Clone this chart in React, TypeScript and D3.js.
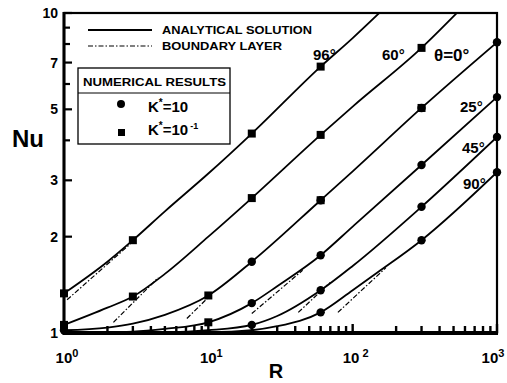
import React, { useEffect, useRef } from 'react';
import * as d3 from 'd3';

// analytical solution curves (R, Nu)
const R_96 = [1, 2, 3, 5, 10, 20, 60, 100, 160];
const NU_96 = [1.33, 1.67, 1.95, 2.4, 3.15, 4.2, 6.8, 8.35, 10.2];
const R_60 = [1, 2, 3, 5, 10, 20, 60, 100, 300, 550];
const NU_60 = [1.06, 1.2, 1.3, 1.53, 2.0, 2.64, 4.16, 5.1, 7.78, 10.2];
const R_0 = [1, 2, 3, 5, 10, 20, 60, 100, 300, 1000];
const NU_0 = [1.02, 1.04, 1.07, 1.14, 1.31, 1.67, 2.6, 3.2, 5.05, 8.1];
const R_25 = [1, 3, 5, 10, 20, 30, 60, 100, 300, 1000];
const NU_25 = [1.0, 1.01, 1.03, 1.08, 1.24, 1.4, 1.75, 2.15, 3.35, 5.46];
const R_45 = [1, 5, 10, 20, 30, 60, 100, 300, 1000];
const NU_45 = [1.0, 1.005, 1.02, 1.06, 1.13, 1.36, 1.62, 2.48, 4.1];
const R_90 = [1, 10, 20, 30, 60, 100, 150, 300, 1000];
const NU_90 = [1.0, 1.005, 1.02, 1.05, 1.16, 1.36, 1.55, 1.95, 3.18];

// boundary layer asymptotes
const BL_R = [[1.05, 3], [2.2, 4.5], [7.1, 10.5], [20, 45], [42, 70], [79, 170]];
const BL_NU = [[1.27, 1.93], [1.08, 1.49], [1.11, 1.32], [1.15, 1.57], [1.16, 1.44], [1.16, 1.6]];

// numerical results
const SQ_R = [1, 3, 20, 60, 1, 3, 20, 60, 300, 10, 60, 300, 10];
const SQ_NU = [1.33, 1.95, 4.2, 6.8, 1.06, 1.3, 2.64, 4.16, 7.78, 1.31, 2.6, 5.05, 1.08];
const CI_R = [20, 60, 300, 1000, 20, 60, 300, 1000, 20, 60, 300, 1000, 60, 300, 1000, 1];
const CI_NU = [1.67, 2.6, 5.05, 8.1, 1.24, 1.75, 3.35, 5.46, 1.06, 1.36, 2.48, 4.1, 1.16, 1.95, 3.18, 1.02];

const Y_LABELS = [1, 2, 3, 5, 7, 10];
const Y_MINOR = [4, 6, 8, 9];
const X_DECADES = [1, 10, 100, 1000];
const X_EXP = ['0', '1', '2', '3'];

const CURVE_LABELS = ['96°', '60°', 'θ=0°', '25°', '45°', '90°'];

const App = () => {
  const svgRef = useRef<SVGSVGElement>(null);

  useEffect(() => {
    document.body.style.margin = '0';
    const svg = d3.select(svgRef.current);
    svg.selectAll('*').remove();

    const x = d3.scaleLog().domain([1, 1000]).range([64, 497]);
    const y = d3.scaleLog().domain([1, 10]).range([333, 13]);
    const font = '"Liberation Sans", Arial, sans-serif';

    svg.append('defs').append('clipPath').attr('id', 'plot')
      .append('rect').attr('x', 64).attr('y', 13).attr('width', 433).attr('height', 320);

    const line = d3.line<[number, number]>()
      .x(d => x(d[0])).y(d => y(d[1]))
      .curve(d3.curveMonotoneX);

    const curves: [number[], number[]][] = [
      [R_96, NU_96], [R_60, NU_60], [R_0, NU_0], [R_25, NU_25], [R_45, NU_45], [R_90, NU_90],
    ];
    const g = svg.append('g').attr('clip-path', 'url(#plot)');
    curves.forEach(([rs, nus]) => {
      g.append('path')
        .attr('d', line(rs.map((r, i) => [r, nus[i]] as [number, number])))
        .attr('fill', 'none').attr('stroke', '#000').attr('stroke-width', 1.8);
    });
    BL_R.forEach((rs, k) => {
      g.append('path')
        .attr('d', line(rs.map((r, i) => [r, BL_NU[k][i]] as [number, number])))
        .attr('fill', 'none').attr('stroke', '#000').attr('stroke-width', 1.2)
        .attr('stroke-dasharray', '5,2,1.5,2');
    });

    // frame
    svg.append('rect').attr('x', 64).attr('y', 13).attr('width', 433).attr('height', 320)
      .attr('fill', 'none').attr('stroke', '#000').attr('stroke-width', 2.2);
    svg.append('line').attr('x1', 64).attr('x2', 64).attr('y1', 12).attr('y2', 335)
      .attr('stroke', '#000').attr('stroke-width', 3);
    svg.append('line').attr('x1', 63).attr('x2', 498).attr('y1', 333).attr('y2', 333)
      .attr('stroke', '#000').attr('stroke-width', 4);

    // y ticks
    Y_LABELS.concat(Y_MINOR).forEach(v => {
      const major = Y_LABELS.includes(v);
      svg.append('line').attr('x1', 64).attr('x2', 64 + (major ? 8 : 6))
        .attr('y1', y(v)).attr('y2', y(v)).attr('stroke', '#000').attr('stroke-width', 2.2);
    });
    Y_LABELS.forEach(v => {
      svg.append('text').attr('x', 58).attr('y', y(v)).attr('dy', '0.36em')
        .attr('text-anchor', 'end').attr('font-family', font).attr('font-weight', 'bold')
        .attr('font-size', 14).text(v);
    });

    // x ticks
    const minor: number[] = [];
    [1, 10, 100].forEach(d => { for (let k = 2; k <= 9; k++) minor.push(d * k); });
    minor.forEach(v => {
      svg.append('line').attr('x1', x(v)).attr('x2', x(v)).attr('y1', 333).attr('y2', 326)
        .attr('stroke', '#000').attr('stroke-width', 2.4);
    });
    X_DECADES.forEach((v, i) => {
      svg.append('line').attr('x1', x(v)).attr('x2', x(v)).attr('y1', 333).attr('y2', 324)
        .attr('stroke', '#000').attr('stroke-width', 2.4);
      const t = svg.append('text').attr('x', i === 3 ? x(v) - 4 : x(v) + 3).attr('y', 363)
        .attr('text-anchor', 'middle').attr('font-family', font).attr('font-weight', 'bold')
        .attr('font-size', 15);
      t.append('tspan').text('10');
      t.append('tspan').attr('dy', -6).attr('font-size', 11).attr('dx', i === 2 ? 3 : 0).text(X_EXP[i]);
    });

    // axis titles
    svg.append('text').attr('x', 28).attr('y', 147).attr('text-anchor', 'middle')
      .attr('font-family', font).attr('font-weight', 'bold').attr('font-size', 24).text('Nu');
    svg.append('text').attr('x', 276).attr('y', 378).attr('text-anchor', 'middle')
      .attr('font-family', font).attr('font-weight', 'bold').attr('font-size', 20).text('R');

    // markers
    SQ_R.forEach((r, i) => {
      svg.append('rect').attr('x', x(r) - 4).attr('y', y(SQ_NU[i]) - 4)
        .attr('width', 8).attr('height', 8).attr('fill', '#000');
    });
    CI_R.forEach((r, i) => {
      svg.append('circle').attr('cx', x(r)).attr('cy', y(CI_NU[i])).attr('r', 4.2).attr('fill', '#000');
    });

    // curve labels
    const lblPos: [number, number, number][] = [
      [313, 60, 15], [382, 60, 15], [434, 61, 17], [460, 112, 15], [462, 153, 15], [463, 189, 15],
    ];
    CURVE_LABELS.forEach((s, i) => {
      const [lx, ly, fs] = lblPos[i];
      svg.append('text').attr('x', lx).attr('y', ly).attr('font-family', font)
        .attr('font-weight', 'bold').attr('font-size', fs).text(s);
    });

    // legend
    svg.append('line').attr('x1', 88).attr('x2', 152).attr('y1', 30).attr('y2', 30)
      .attr('stroke', '#000').attr('stroke-width', 1.8);
    svg.append('line').attr('x1', 88).attr('x2', 152).attr('y1', 46).attr('y2', 46)
      .attr('stroke', '#000').attr('stroke-width', 1.2).attr('stroke-dasharray', '5,2,1.5,2');
    svg.append('text').attr('x', 162).attr('y', 34).attr('font-family', font)
      .attr('font-weight', 'bold').attr('font-size', 11.5)
      .attr('textLength', 150).attr('lengthAdjust', 'spacingAndGlyphs').text('ANALYTICAL SOLUTION');
    svg.append('text').attr('x', 162).attr('y', 50).attr('font-family', font)
      .attr('font-weight', 'bold').attr('font-size', 11.5)
      .attr('textLength', 120).attr('lengthAdjust', 'spacingAndGlyphs').text('BOUNDARY LAYER');

    svg.append('rect').attr('x', 78).attr('y', 68).attr('width', 152).attr('height', 76)
      .attr('fill', '#fff').attr('stroke', '#000').attr('stroke-width', 1.3);
    svg.append('line').attr('x1', 78).attr('x2', 230).attr('y1', 93).attr('y2', 93)
      .attr('stroke', '#000').attr('stroke-width', 1);
    svg.append('text').attr('x', 83).attr('y', 86).attr('font-family', font)
      .attr('font-weight', 'bold').attr('font-size', 11.5)
      .attr('textLength', 143).attr('lengthAdjust', 'spacingAndGlyphs').text('NUMERICAL RESULTS');
    svg.append('circle').attr('cx', 121).attr('cy', 104).attr('r', 4).attr('fill', '#000');
    svg.append('rect').attr('x', 118).attr('y', 129).attr('width', 7).attr('height', 7).attr('fill', '#000');
    const k1 = svg.append('text').attr('x', 148).attr('y', 112).attr('font-family', font)
      .attr('font-weight', 'bold').attr('font-size', 15);
    k1.append('tspan').text('K');
    k1.append('tspan').attr('dy', -6).attr('font-size', 10).text('*');
    k1.append('tspan').attr('dy', 6).text('=10');
    const k2 = svg.append('text').attr('x', 148).attr('y', 135).attr('font-family', font)
      .attr('font-weight', 'bold').attr('font-size', 15);
    k2.append('tspan').text('K');
    k2.append('tspan').attr('dy', -6).attr('font-size', 10).text('*');
    k2.append('tspan').attr('dy', 6).text('=10');
    k2.append('tspan').attr('dy', -6).attr('dx', 2).attr('font-size', 9).text('-1');
  }, []);

  return <svg ref={svgRef} width={507} height={383} style={{ display: 'block', background: '#fff' }}></svg>;
};

export default App;
